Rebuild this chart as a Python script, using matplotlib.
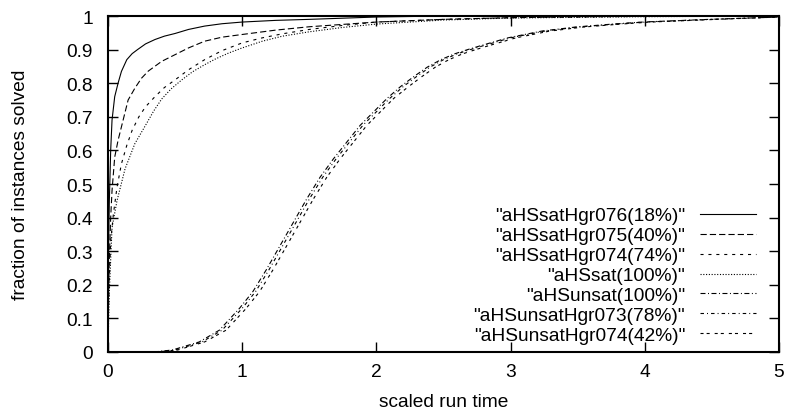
import numpy as np
import matplotlib
matplotlib.use("Agg")
import matplotlib.pyplot as plt

plt.rcParams['font.family'] = ['Liberation Sans', 'DejaVu Sans']
plt.rcParams['lines.scale_dashes'] = False

# cumulative fraction of solved instances vs scaled run time
hgr076_x = [0, 0.002, 0.005, 0.01, 0.02, 0.03, 0.05, 0.075, 0.1, 0.14, 0.18, 0.22, 0.28, 0.35, 0.42, 0.5, 0.6, 0.72, 0.85,
            1.0, 1.25, 1.5, 2.0, 2.5, 5.0]
hgr076_y = [0, 0.2, 0.33, 0.45, 0.6, 0.69, 0.76, 0.80, 0.835, 0.87, 0.888, 0.90, 0.917, 0.93, 0.94, 0.948, 0.96, 0.97, 0.977,
            0.982, 0.987, 0.99, 0.997, 1.0, 1.0]

hgr075_x = [0, 0.005, 0.01, 0.02, 0.03, 0.05, 0.075, 0.1, 0.15, 0.2, 0.25, 0.3, 0.4, 0.5, 0.6, 0.72, 0.85, 1.0, 1.25,
            1.5, 2.0, 2.5, 3.0, 3.5, 4.0, 5.0]
hgr075_y = [0, 0.2, 0.28, 0.4, 0.48, 0.58, 0.63, 0.67, 0.75, 0.785, 0.815, 0.836, 0.865, 0.885, 0.905, 0.925, 0.937, 0.945,
            0.958, 0.968, 0.982, 0.99, 0.995, 0.998, 1.0, 1.0]

hgr074_x = [0, 0.005, 0.01, 0.02, 0.04, 0.067, 0.1, 0.14, 0.18, 0.23, 0.28, 0.35, 0.42, 0.5, 0.6, 0.72, 0.85, 1.0, 1.15,
            1.3, 1.5, 1.75, 2.0, 2.5, 3.0, 4.0, 5.0]
hgr074_y = [0, 0.15, 0.22, 0.33, 0.41, 0.49, 0.56, 0.615, 0.66, 0.70, 0.73, 0.76, 0.787, 0.81, 0.84, 0.87, 0.897, 0.92, 0.935,
            0.947, 0.96, 0.972, 0.982, 0.99, 0.995, 0.999, 1.0]

sat_x = [0, 0.005, 0.01, 0.03, 0.067, 0.127, 0.2, 0.28, 0.34, 0.4, 0.47, 0.55, 0.63, 0.72, 0.8, 0.9, 1.0, 1.15, 1.3, 1.5,
         1.75, 2.0, 2.5, 3.0, 4.0, 5.0]
sat_y = [0, 0.1, 0.18, 0.37, 0.45, 0.545, 0.62, 0.675, 0.717, 0.753, 0.783, 0.81, 0.834, 0.855, 0.872, 0.89, 0.905, 0.925,
         0.94, 0.953, 0.966, 0.976, 0.988, 0.994, 0.998, 1.0]

unsat_y = [0, 0.006, 0.03, 0.065, 0.13, 0.18, 0.245, 0.315, 0.385, 0.455, 0.52, 0.575, 0.625, 0.675, 0.715,
           0.755, 0.79, 0.82, 0.848, 0.87, 0.887, 0.9, 0.912, 0.935, 0.955, 0.967, 0.975, 0.982, 0.99, 0.997]
unsat_x = [0.34, 0.48, 0.68, 0.83, 0.98, 1.08, 1.18, 1.28, 1.38, 1.48, 1.58, 1.68, 1.78, 1.88, 1.98,
           2.08, 2.18, 2.28, 2.38, 2.48, 2.58, 2.68, 2.78, 2.98, 3.23, 3.48, 3.73, 3.98, 4.48, 5.0]
unsat073_x = [0.35, 0.5, 0.7, 0.85, 1.0, 1.1, 1.2, 1.3, 1.4, 1.5, 1.6, 1.7, 1.8, 1.9, 2.0,
              2.1, 2.2, 2.3, 2.4, 2.5, 2.6, 2.7, 2.8, 3.0, 3.25, 3.5, 3.75, 4.0, 4.5, 5.0]
unsat074_x = [0.36, 0.52, 0.72, 0.88, 1.03, 1.13, 1.23, 1.33, 1.43, 1.53, 1.63, 1.73, 1.83, 1.93, 2.03,
              2.13, 2.24, 2.34, 2.44, 2.54, 2.64, 2.74, 2.84, 3.04, 3.29, 3.54, 3.79, 4.04, 4.54, 5.0]

labels = ['"aHSsatHgr076(18%)"', '"aHSsatHgr075(40%)"', '"aHSsatHgr074(74%)"', '"aHSsat(100%)"',
          '"aHSunsat(100%)"', '"aHSunsatHgr073(78%)"', '"aHSunsatHgr074(42%)"']

series = [
    (hgr076_x, hgr076_y, None),
    (hgr075_x, hgr075_y, (4.5, 2.2)),
    (hgr074_x, hgr074_y, (2.2, 3.5)),
    (sat_x, sat_y, (0.8, 1.2)),
    (unsat_x, unsat_y, (3.6, 1.8, 0.7, 1.8)),
    (unsat073_x, unsat_y, (2.5, 2.2, 0.7, 2.2)),
    (unsat074_x, unsat_y, (2.2, 2.2, 2.2, 3.6)),
]

fs = 13.8

fig = plt.figure(figsize=(7.87, 4.14), dpi=100)
ax = fig.add_axes([108 / 787, 1 - 353 / 414, 671 / 787, 336 / 414])

for (x, y, dash), lab in zip(series, labels):
    line, = ax.plot(x, y, color='black', lw=0.8, label=lab)
    if dash is not None:
        line.set_dashes(dash)

ax.set_xlim(0, 5)
ax.set_ylim(0, 1)
ax.set_xticks([0, 1, 2, 3, 4, 5])
ax.set_xticklabels(['0', '1', '2', '3', '4', '5'])
ax.set_yticks(np.arange(0, 1.01, 0.1))
ax.set_yticklabels(['0', '0.1', '0.2', '0.3', '0.4', '0.5', '0.6', '0.7', '0.8', '0.9', '1'])
ax.tick_params(direction='in', length=7, width=1, top=True, right=True, labelsize=fs)
ax.tick_params(axis='y', pad=11)
ax.tick_params(axis='x', pad=8)
for s in ax.spines.values():
    s.set_linewidth(1.5)

ax.set_xlabel('scaled run time', fontsize=fs, labelpad=9)
ax.set_ylabel('fraction of instances solved', fontsize=fs, labelpad=27)

ax.legend(loc='lower right', bbox_to_anchor=(0.9657, 0.024), frameon=False, markerfirst=False,
          fontsize=fs, handlelength=2.92, handletextpad=0.78, labelspacing=0.13,
          borderpad=0, borderaxespad=0)

fig.savefig('out.png', dpi=100)
